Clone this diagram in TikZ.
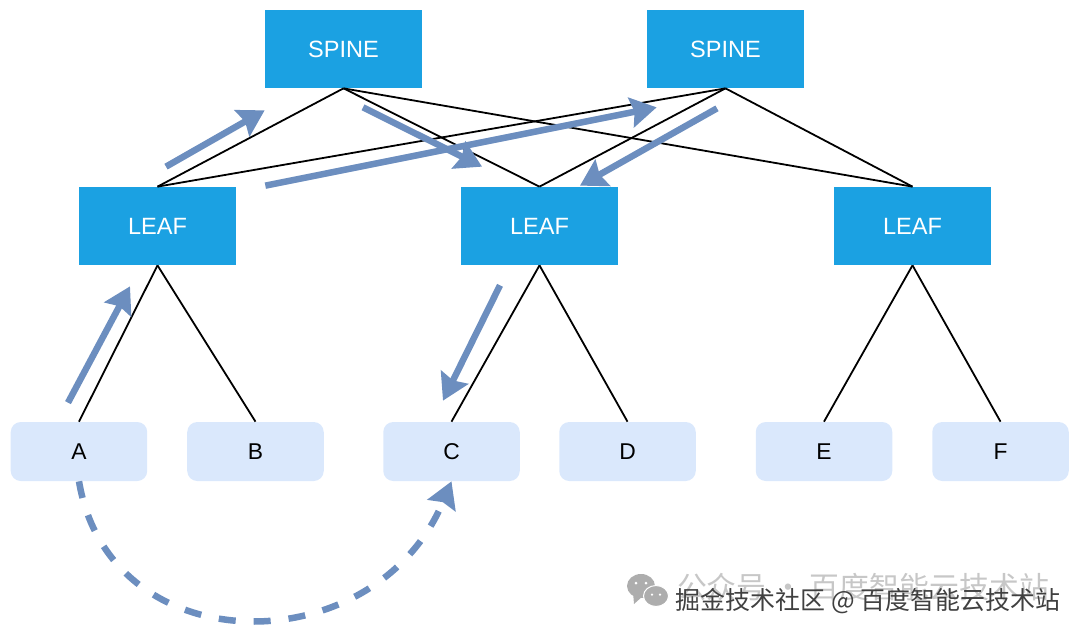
\documentclass[tikz,border=0pt]{standalone}
\usepackage{fontspec}
\setmainfont{Liberation Sans}
\newfontfamily\cjk{Noto Sans CJK SC}
\usetikzlibrary{calc,arrows.meta}
\definecolor{switchblue}{HTML}{1BA1E2}
\definecolor{hostblue}{HTML}{DAE8FC}
\definecolor{flowblue}{HTML}{6C8EBF}
\tikzstyle{switch} = [rectangle, fill=switchblue, text=white, font=\fontsize{13.4}{15}\selectfont, minimum height=1.56cm, minimum width=3.14cm]
\tikzstyle{host} = [rectangle, rounded corners=0.2cm, fill=hostblue, font=\fontsize{13}{15}\selectfont, minimum height=1.18cm, minimum width=2.73cm]
\tikzstyle{link} = [line width=0.036cm, black]
\tikzstyle{flow} = [line width=0.13cm, flowblue, -{Stealth[length=0.52cm, width=0.6cm, inset=0.07cm]}]
\tikzstyle{hop} = [flow, dash pattern=on 0.34cm off 0.36cm]
\tikzstyle{sitemark} = [font=\cjk\fontsize{14.2}{16}\selectfont, text=black!75]
\tikzstyle{faint} = [font=\cjk\fontsize{17}{19}\selectfont, text=black!22]
\begin{document}
\begin{tikzpicture}[node distance=2cm]
            \useasboundingbox (-6.87,0.98) rectangle (14.73,-11.72);
            \node (spine1) [switch] {SPINE};
            \node (spine2) [switch, right of = spine1, xshift=5.64cm] {SPINE};
            \node (leaf1) [switch, below of = spine1, xshift=-3.72cm, yshift=-1.54cm] {LEAF};
            \node (leaf2) [switch, right of = leaf1, xshift=5.64cm] {LEAF};
            \node (leaf3) [switch, right of = leaf2, xshift=5.46cm] {LEAF};
            \node (a) [host, below of = leaf1, xshift=-1.57cm, yshift=-2.51cm] {A};
            \node (b) [host, right of = a, xshift=1.53cm] {B};
            \node (c) [host, below of = leaf2, xshift=-1.76cm, yshift=-2.51cm] {C};
            \node (d) [host, right of = c, xshift=1.52cm] {D};
            \node (e) [host, below of = leaf3, xshift=-1.77cm, yshift=-2.51cm] {E};
            \node (f) [host, right of = e, xshift=1.53cm] {F};
            \node (gray) [faint] at (10.39,-10.76) {公众号 · 百度智能云技术站};
            \node (label) [sitemark] at (10.49,-11.04) {掘金技术社区 @ 百度智能云技术站};
            \coordinate (up1a) at ($(leaf1.north)+(0.17,0.40)$);
            \coordinate (up1b) at ($(spine1.south west)+(0,-0.44)$);
            \coordinate (up2a) at ($(leaf1.north east)+(0.58,0.02)$);
            \coordinate (up2b) at ($(spine2.south west)+(0.20,-0.38)$);
            \coordinate (down1a) at ($(spine1.south)+(0.39,-0.38)$);
            \coordinate (down1b) at ($(leaf2.north)+(-1.15,0.40)$);
            \coordinate (down2a) at ($(spine2.south)+(-0.17,-0.40)$);
            \coordinate (down2b) at ($(leaf2.north)+(0.81,0.02)$);
            \coordinate (hostup1) at ($(a.north)+(-0.22,0.38)$);
            \coordinate (hostup2) at ($(leaf1.south)+(-0.55,-0.42)$);
            \coordinate (hostdown1) at ($(leaf2.south)+(-0.79,-0.40)$);
            \coordinate (hostdown2) at ($(c.north)+(-0.17,0.42)$);
            \coordinate (bubble1) at (5.95,-10.74);
            \coordinate (bubble2) at (6.25,-10.94);
            \draw [link] (spine1.south) -- (leaf1.north);
            \draw [link] (spine1.south) -- (leaf2.north);
            \draw [link] (spine1.south) -- (leaf3.north);
            \draw [link] (spine2.south) -- (leaf1.north);
            \draw [link] (spine2.south) -- (leaf2.north);
            \draw [link] (spine2.south) -- (leaf3.north);
            \draw [link] (leaf1.south) -- (a.north);
            \draw [link] (leaf1.south) -- (b.north);
            \draw [link] (leaf2.south) -- (c.north);
            \draw [link] (leaf2.south) -- (d.north);
            \draw [link] (leaf3.south) -- (e.north);
            \draw [link] (leaf3.south) -- (f.north);
            \draw [flow] (up1a) -- (up1b);
            \draw [flow] (up2a) -- (up2b);
            \draw [flow] (down1a) -- (down1b);
            \draw [flow] (down2a) -- (down2b);
            \draw [flow] (hostup1) -- (hostup2);
            \draw [flow] (hostdown1) -- (hostdown2);
            \draw [hop] (a.south) .. controls +(0.62,-3.68) and +(-1.52,-3.66) .. (c.south);
            \fill [black!32] (bubble1) ellipse (0.28cm and 0.24cm);
            \fill [black!32] ($(bubble1)+(-0.16,-0.12)$) -- ($(bubble1)+(-0.14,-0.36)$) -- ($(bubble1)+(0.04,-0.2)$) -- cycle;
            \fill [white] (bubble1)+(-0.1,0.06) circle (0.03cm) (bubble1)+(0.1,0.06) circle (0.03cm);
            \filldraw [black!32, draw=white, line width=0.02cm] (bubble2) ellipse (0.25cm and 0.21cm);
            \fill [white] (bubble2)+(-0.08,0.03) circle (0.025cm) (bubble2)+(0.08,0.03) circle (0.025cm);
        \end{tikzpicture}
\end{document}
